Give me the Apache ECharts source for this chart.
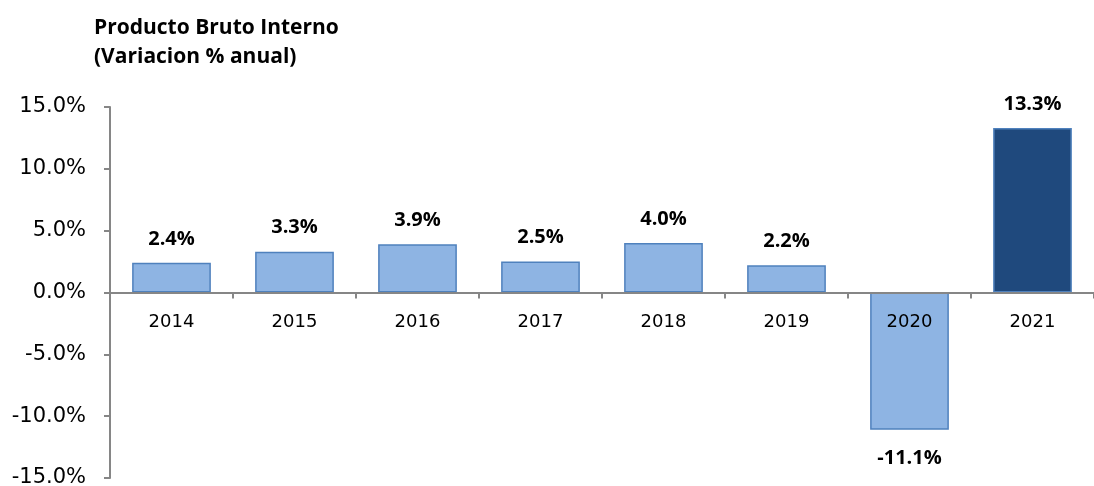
<!DOCTYPE html>
<html>
<head>
<meta charset="utf-8">
<script src="https://cdn.jsdelivr.net/npm/echarts@6/dist/echarts.min.js"></script>
<style>
  html, body { margin: 0; padding: 0; background: #fff; }
  #chart { width: 1094px; height: 486px; }
</style>
</head>
<body>
<div id="chart"></div>
<script>
const years = ['2014', '2015', '2016', '2017', '2018', '2019', '2020', '2021']
const pbi = [2.4, 3.3, 3.9, 2.5, 4.0, 2.2, -11.1, 13.3]
const yTicks = [-15, -10, -5, 0, 5, 10, 15]

const lightBlue = '#8EB4E3'
const darkBlue = '#1F497D'
const edge = '#4F81BD'

const gridTop = 107
const gridBottom = 8
const chartH = 486

let myChart = echarts.init(document.getElementById('chart'))

// the category labels sit under the zero line, not at the bottom of the grid
const plotH = chartH - gridTop - gridBottom
const zeroFromBottom = plotH * (0 - yTicks[0]) / (yTicks[yTicks.length - 1] - yTicks[0])

let option = {
    animation: false,
    title: {
        text: 'Producto Bruto Interno\n(Variacion % anual)',
        left: 89,
        top: 9,
        textStyle: {
            fontFamily: 'Open Sans',
            fontWeight: 'bold',
            fontSize: 21,
            lineHeight: 29,
            color: '#000'
        }
    },
    grid: {
        left: 110,
        right: 0,
        top: gridTop,
        bottom: gridBottom,
        outerBoundsMode: 'none'
    },
    xAxis: [
        {
            type: 'category',
            data: years,
            z: 5,
            axisLine: { onZero: true, lineStyle: { color: '#868686', width: 2 } },
            axisTick: { show: true, length: 6, lineStyle: { color: '#868686', width: 2 } },
            axisLabel: { show: false }
        },
        {
            type: 'category',
            data: years,
            position: 'bottom',
            offset: -zeroFromBottom,
            z: 5,
            axisLine: { show: false, onZero: false },
            axisTick: { show: false },
            axisLabel: {
                margin: 21,
                fontFamily: 'DejaVu Sans',
                fontSize: 18,
                color: '#000'
            }
        }
    ],
    yAxis: {
        type: 'value',
        min: yTicks[0],
        max: yTicks[yTicks.length - 1],
        interval: 5,
        splitLine: { show: false },
        axisLine: { show: true, lineStyle: { color: '#868686', width: 2 } },
        axisTick: { show: true, length: 6, lineStyle: { color: '#868686', width: 2 } },
        axisLabel: {
            margin: 24,
            fontFamily: 'DejaVu Sans',
            fontSize: 21,
            color: '#000',
            formatter: v => v.toFixed(1) + '%'
        }
    },
    series: [
        {
            type: 'bar',
            barWidth: '64%',
            data: pbi.map((v, i) => ({
                value: v,
                itemStyle: { color: i === pbi.length - 1 ? darkBlue : lightBlue },
                label: v < 0 ? { position: 'bottom', distance: 19 } : { position: 'top' }
            })),
            itemStyle: { borderColor: edge, borderWidth: 1.5 },
            label: {
                show: true,
                distance: 14,
                fontFamily: 'Open Sans',
                fontWeight: 'bold',
                fontSize: 20,
                color: '#000',
                formatter: p => p.value.toFixed(1) + '%'
            }
        }
    ]
}
myChart.setOption(option)
window.addEventListener('resize', function () {
    myChart.resize()
})
</script>
</body>
</html>
